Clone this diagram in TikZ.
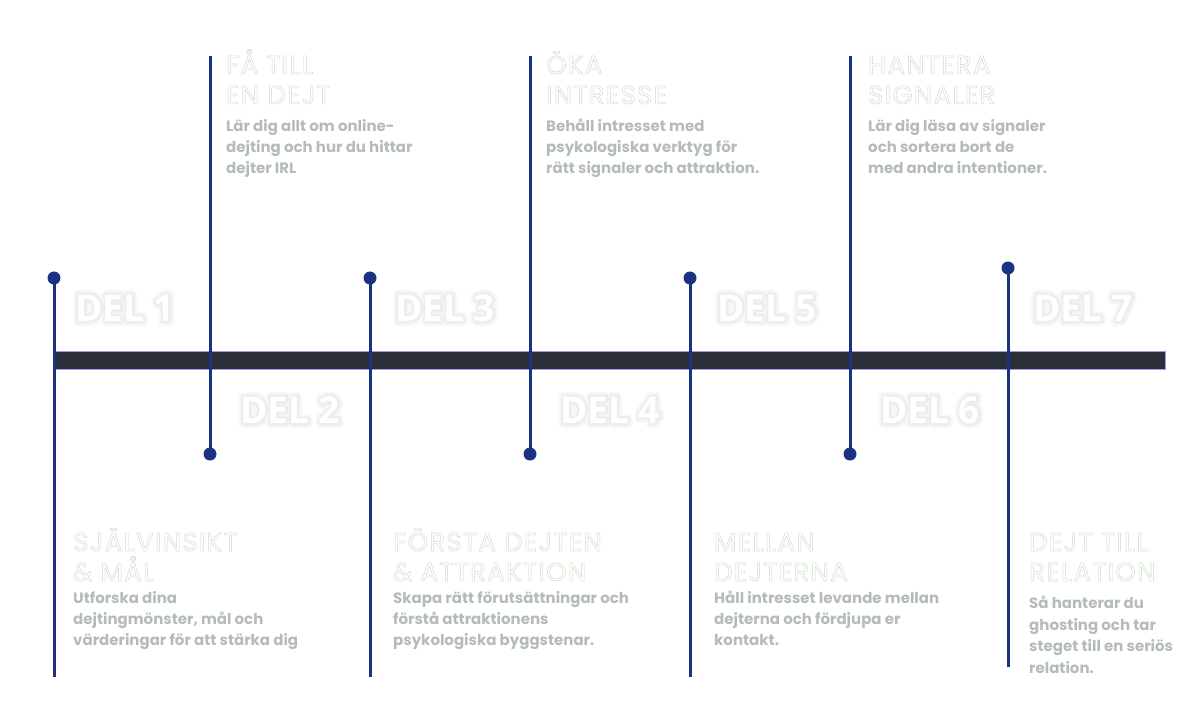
\documentclass[tikz,border=0pt]{standalone}
\usepackage{fontspec}
\setmainfont{Poppins}
\newfontfamily\headfont{Poppins}[LetterSpace=5]
\newfontfamily\delfont{Open Sans}
\usetikzlibrary{calc,positioning}
\definecolor{barcol}{HTML}{2B2F3A}
\definecolor{glowcol}{HTML}{7070F0}
\definecolor{linecol}{HTML}{1B3282}
\definecolor{desccol}{HTML}{B3BCB8}
\definecolor{headcol}{HTML}{C9DCC4}
\definecolor{shadeout}{HTML}{F7F7F7}
\definecolor{shadein}{HTML}{EDEDED}
\tikzset{
  stem/.style     = {draw=linecol, line width=3pt},
  pin/.style      = {circle, fill=linecol, inner sep=0pt, minimum size=13pt},
  deltext/.style  = {font=\delfont\bfseries\fontsize{37}{40}\selectfont, text=white, inner sep=0pt},
  headtext/.style = {font=\headfont\fontsize{26}{30}\selectfont, text=headcol, align=left, anchor=base west, inner sep=0pt},
  desctext/.style = {font=\bfseries\fontsize{15}{21}\selectfont, text=desccol, align=left, anchor=base west, inner sep=0pt},
}
% outlined heading line (stroked glyphs only), glowing part label
\newcommand\hd[1]{\special{pdf:code 1 Tr 0.5 w 1 j}#1\special{pdf:code 0 Tr}}
\newcommand\dl[1]{\leavevmode
  \rlap{\color{shadeout}\special{pdf:code 1 Tr 10 w 1 j}#1\special{pdf:code 0 Tr}}%
  \rlap{\color{shadein}\special{pdf:code 1 Tr 5 w 1 j}#1\special{pdf:code 0 Tr}}#1}
\begin{document}
\begin{tikzpicture}[x=1pt,y=-1pt]
\useasboundingbox (0,0) rectangle (1200,727);
% timeline bar
\node[fill=barcol, draw=glowcol!70, line width=0.8pt, minimum width=1110pt, minimum height=18pt,
      inner sep=0pt, anchor=west] (bar) at (55,360) {};

% stems, dots up / down
\node[pin] (p1) at (54,278) {};   \coordinate (e1) at (54,677);
\coordinate (t2) at (210,56);     \node[pin] (p2) at (210,454) {};
\node[pin] (p3) at (370,278) {};  \coordinate (e3) at (370,677);
\coordinate (t4) at (530,56);     \node[pin] (p4) at (530,454) {};
\node[pin] (p5) at (690,278) {};  \coordinate (e5) at (690,677);
\coordinate (t6) at (850,56);     \node[pin] (p6) at (850,454) {};
\node[pin] (p7) at (1008,268) {}; \coordinate (e7) at (1008,667);
\draw[stem] (p1.center) -- (e1);
\draw[stem] (t2) -- (p2.center);
\draw[stem] (p3.center) -- (e3);
\draw[stem] (t4) -- (p4.center);
\draw[stem] (p5.center) -- (e5);
\draw[stem] (t6) -- (p6.center);
\draw[stem] (p7.center) -- (e7);

% part labels
\node[deltext] (d1) at (125,308) {\dl{DEL 1}};
\node[deltext] (d2) at (290,410) {\dl{DEL 2}};
\node[deltext] (d3) at (445,308) {\dl{DEL 3}};
\node[deltext] (d4) at (610,410) {\dl{DEL 4}};
\node[deltext] (d5) at (767,308) {\dl{DEL 5}};
\node[deltext] (d6) at (930,410) {\dl{DEL 6}};
\node[deltext] (d7) at (1083,308) {\dl{DEL 7}};

% upper texts
\node[headtext] (h2) at (226,104) {\hd{FÅ TILL}\\\hd{EN DEJT}};
\node[desctext] (s2) at (226,174) {Lär dig allt om online-\\dejting och hur du hittar\\dejter IRL};
\node[headtext] (h4) at (546,104) {\hd{ÖKA}\\\hd{INTRESSE}};
\node[desctext] (s4) at (546,174) {Behåll intresset med\\psykologiska verktyg för\\rätt signaler och attraktion.};
\node[headtext] (h6) at (868,104) {\hd{HANTERA}\\\hd{SIGNALER}};
\node[desctext] (s6) at (868,174) {Lär dig läsa av signaler\\och sortera bort de\\med andra intentioner.};

% lower texts
\node[headtext] (h1) at (73,581) {\hd{SJÄLVINSIKT}\\\hd{\& MÅL}};
\node[desctext] (s1) at (73,645) {Utforska dina\\dejtingmönster, mål och\\värderingar för att stärka dig};
\node[headtext] (h3) at (393,581) {\hd{FÖRSTA DEJTEN}\\\hd{\& ATTRAKTION}};
\node[desctext] (s3) at (393,645) {Skapa rätt förutsättningar och\\förstå attraktionens\\psykologiska byggstenar.};
\node[headtext] (h5) at (714,581) {\hd{MELLAN}\\\hd{DEJTERNA}};
\node[desctext] (s5) at (714,645) {Håll intresset levande mellan\\dejterna och fördjupa er\\kontakt.};
\node[headtext] (h7) at (1029,581) {\hd{DEJT TILL}\\\hd{RELATION}};
\node[desctext,font=\bfseries\fontsize{15}{21.5}\selectfont] (s7) at (1029,673) {Så hanterar du\\ghosting och tar\\steget till en seriös\\relation.};
\end{tikzpicture}
\end{document}
